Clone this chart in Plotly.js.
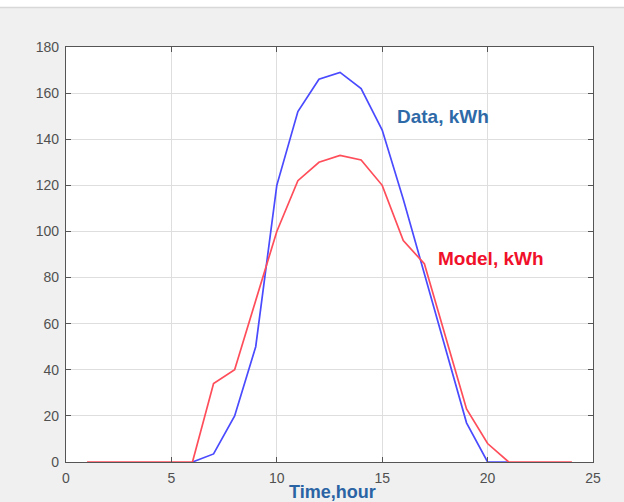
<!DOCTYPE html>
<html>
<head>
<meta charset="utf-8">
<script src="https://cdn.plot.ly/plotly-3.0.1.min.js"></script>
<style>
html,body{margin:0;padding:0;background:#f0f0f0;}
#chart{width:624px;height:502px;}
</style>
</head>
<body>
<div id="chart"></div>
<script>
// Hours and series values (kWh)
const modelHours = [1,2,3,4,5,6,7,8,9,10,11,12,13,14,15,16,17,18,19,20,21,22,23,24];
const modelValues = [0,0,0,0,0,0,34,40,70,100,122,130,133,131,120,96,86,54,23,8,0,0,0,0];
const dataHours = [6,7,8,9,10,11,12,13,14,15,16,17,18,19,20,21];
const dataValues = [0,3.5,20,50,120,152,166,169,162,144,114,82,50,17,0,0];
const xTicks = [0,5,10,15,20,25];
const yTicks = [0,20,40,60,80,100,120,140,160,180];

const FAMILY = 'Liberation Sans, Arial, sans-serif';
const font = {family: FAMILY, size: 14, color: '#505050'};

const traces = [
  {x: dataHours, y: dataValues, mode: 'lines', line: {color: '#4a4aff', width: 1.7}, hoverinfo: 'skip'},
  {x: modelHours, y: modelValues, mode: 'lines', line: {color: '#ff4d5a', width: 1.7}, hoverinfo: 'skip'}
];

const axisCommon = {
  showgrid: true, gridcolor: '#dedede', gridwidth: 1.2,
  zeroline: false, showline: true, linecolor: '#555555', linewidth: 1.2,
  mirror: 'ticks', ticks: 'inside', ticklen: 5, tickcolor: '#555555',
  tickfont: font, fixedrange: true
};

const layout = {
  width: 624, height: 502,
  paper_bgcolor: '#f0f0f0', plot_bgcolor: '#ffffff',
  margin: {l: 66, r: 31, t: 47, b: 40},
  showlegend: false,
  xaxis: Object.assign({}, axisCommon, {range: [0, 25], tickvals: xTicks, ticktext: xTicks.map(String), ticklabelstandoff: 3}),
  yaxis: Object.assign({}, axisCommon, {range: [0, 180], tickvals: yTicks, ticktext: yTicks.map(String), ticklabelstandoff: 3}),
  annotations: [
    {text: '<b>Data, kWh</b>', x: 443, y: 116, font: {family: FAMILY, size: 19, color: '#2f6aa8'}},
    {text: '<b>Model, kWh</b>', x: 491, y: 258, font: {family: FAMILY, size: 19, color: '#f0102a'}},
    {text: '<b>Time,hour</b>', x: 332, y: 492, font: {family: FAMILY, size: 18, color: '#2a64a4'}}
  ]
};

// Convert pixel-positioned annotations to paper coords
const pw = 624 - 66 - 31, ph = 502 - 47 - 40;
layout.annotations.forEach(a => {
  a.x = (a.x - 66) / pw;
  a.y = (502 - 40 - a.y) / ph;
  a.xref = 'paper'; a.yref = 'paper';
  a.xanchor = 'center'; a.yanchor = 'middle';
  a.showarrow = false;
});
layout.shapes = [
  {type: 'rect', xref: 'paper', yref: 'paper', x0: -66/pw, x1: (624-66)/pw, y0: (502-40-7)/ph, y1: (502-40)/ph,
   fillcolor: '#ffffff', line: {width: 0}, layer: 'below'},
  {type: 'line', xref: 'paper', yref: 'paper', x0: -66/pw, x1: (624-66)/pw, y0: (502-40-7.5)/ph, y1: (502-40-7.5)/ph,
   line: {color: '#d8d8d8', width: 1.5}, layer: 'below'}
];

Plotly.newPlot('chart', traces, layout, {displayModeBar: false, staticPlot: true});
</script>
</body>
</html>
